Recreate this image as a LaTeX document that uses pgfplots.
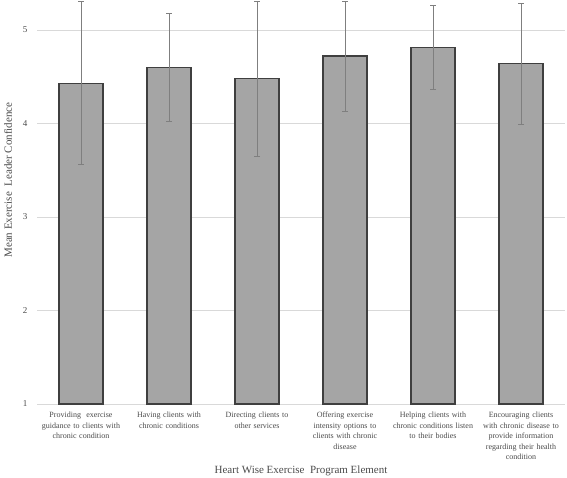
\documentclass[border=0pt]{standalone}
\usepackage{pgfplots}
\pgfplotsset{compat=1.18}
\usepackage{fontspec}
\setmainfont{Liberation Serif}
\definecolor{barfill}{HTML}{A5A5A5}
\definecolor{bardraw}{HTML}{3F3F3F}
\definecolor{errc}{HTML}{7F7F7F}
\definecolor{gridc}{HTML}{D9D9D9}
\definecolor{txt}{HTML}{4A4A4A}
\begin{document}
\begin{tikzpicture}[x=1pt,y=1pt]
\path[use as bounding box] (-37,-74) rectangle (530,404);
\begin{axis}[
  at={(0,0)}, anchor=south west,
  scale only axis, width=528pt, height=404pt,
  xmin=-0.5, xmax=5.5, ymin=1, ymax=5.32,
  clip=false,
  axis x line*=bottom, axis y line*=left,
  x axis line style={draw=gridc, line width=0.8pt, -},
  y axis line style={draw=none},
  major tick length=0pt,
  ytick={1,2,3,4,5},
  ymajorgrids, grid style={draw=gridc, line width=0.8pt},
  xtick={0,1,2,3,4,5},
  xticklabels={
    {Providing\ \ exercise\\guidance to clients with\\chronic condition},
    {Having clients with\\chronic conditions},
    {Directing clients to\\other services},
    {Offering exercise\\intensity options to\\clients with chronic\\disease},
    {Helping clients with\\chronic conditions listen\\to their bodies},
    {Encouraging clients\\with chronic disease to\\provide information\\regarding their health\\condition}},
  xticklabel style={text width=100pt, align=center, font=\fontsize{8}{10.6}\selectfont, text=txt, anchor=north, yshift=-4.5pt},
  yticklabel style={font=\fontsize{9}{10}\selectfont, text=txt, xshift=-6pt},
  /pgf/number format/assume math mode=true,
]
\addplot[ybar, bar width=44pt, fill=barfill, draw=bardraw, line width=1.3pt,
  error bars/.cd, y dir=both, y explicit,
  error bar style={draw=errc, line width=0.8pt},
  error mark options={rotate=90, mark size=3pt, draw=errc, line width=0.8pt}]
coordinates {
 (0,4.43) +- (0,0.87)
 (1,4.60) +- (0,0.58)
 (2,4.48) +- (0,0.83)
 (3,4.72) +- (0,0.59)
 (4,4.81) +- (0,0.45)
 (5,4.64) +- (0,0.645)
};
\end{axis}
\node[text=txt, font=\fontsize{11}{12}\selectfont] at (264,-67) {Heart Wise Exercise\ \ Program Element};
\node[text=txt, font=\fontsize{11}{12}\selectfont, rotate=90] at (-29,224) {Mean Exercise\ \ Leader Confidence};
\end{tikzpicture}
\end{document}
